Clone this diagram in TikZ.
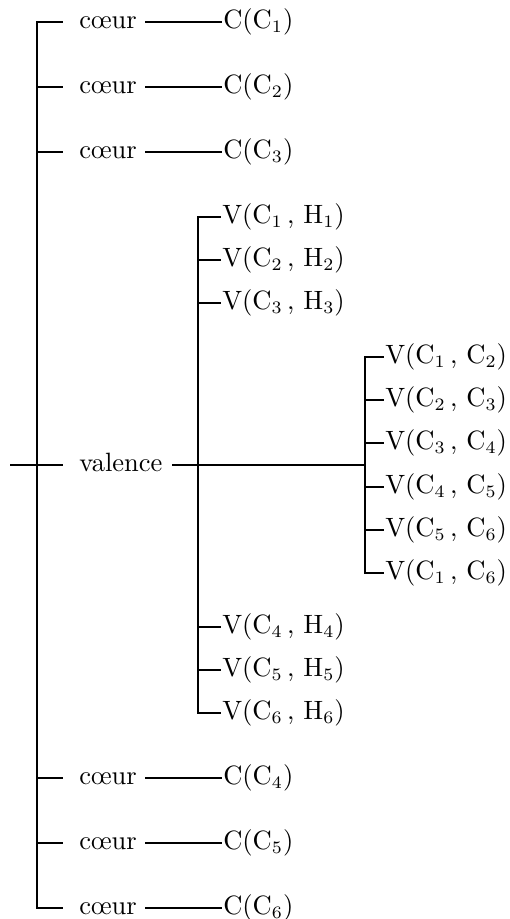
\documentclass[tikz,border=0pt]{standalone}
\begin{document}
\begin{tikzpicture}[x=0.4pt,y=-0.4pt,line width=1pt,
  lbl/.style={anchor=west,inner sep=0pt,text height=7.7pt,text depth=2.5pt,font=\fontsize{10.6}{12}\selectfont}]
\useasboundingbox (0,0) rectangle (510,919);
\coordinate (root) at (10,465);
\coordinate (f1) at (37,465);
\coordinate (f2) at (198,465);
\coordinate (f3) at (365,465);
% core rows
\foreach \i/\y in {1/22,2/87,3/152,4/778,5/843,6/908}{
  \node[lbl] (k\i) at (78,\y) {c\oe ur};
  \node[lbl] (C\i) at (222,\y) {C(C$_\i$)};
  \draw (f1) |- ([xshift=-6pt]k\i.west);
  \draw ([xshift=2.8pt]k\i.east) -- (C\i.west);
}
\node[lbl] (val) at (78,465) {valence};
\draw (root) -- (f1) -- ([xshift=-6pt]val.west);
\draw ([xshift=3.5pt]val.east) -- (f2) -- (f3);
% V(C,H)
\foreach \i/\y in {1/217,2/260,3/303,4/627,5/670,6/713}{
  \node[lbl] (vh\i) at (221,\y) {V(C$_\i$\,, H$_\i$)};
  \draw (f2) |- (vh\i.west);
}
% V(C,C)
\foreach \i/\a/\b/\y in {1/1/2/357,2/2/3/400,3/3/4/443,4/4/5/487,5/5/6/530,6/1/6/573}{
  \node[lbl] (vc\i) at (384,\y) {V(C$_\a$\,, C$_\b$)};
  \draw (f3) |- (vc\i.west);
}
\end{tikzpicture}
\end{document}
